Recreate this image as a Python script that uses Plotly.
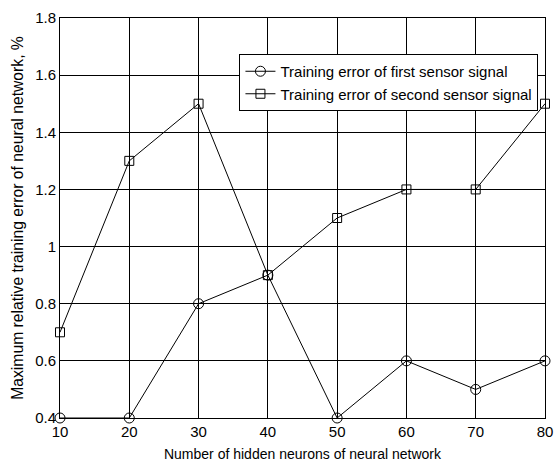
import plotly.graph_objects as go

neurons = [10, 20, 30, 40, 50, 60, 70, 80]
err_first = [0.4, 0.4, 0.8, 0.9, 0.4, 0.6, 0.5, 0.6]
err_second = [0.7, 1.3, 1.5, 0.9, 1.1, 1.2, 1.2, 1.5]
y_ticks = [0.4, 0.6, 0.8, 1.0, 1.2, 1.4, 1.6, 1.8]
y_tick_text = ["0.4", "0.6", "0.8", "1", "1.2", "1.4", "1.6", "1.8"]

fig = go.Figure()
fig.add_trace(go.Scatter(
    x=neurons, y=err_first, mode="lines+markers",
    name="Training error of first sensor signal",
    line=dict(color="black", width=1),
    marker=dict(symbol="circle-open", size=10, color="black", line=dict(width=1)),
    cliponaxis=False,
))
fig.add_trace(go.Scatter(
    x=neurons, y=err_second, mode="lines+markers",
    name="Training error of second sensor signal",
    line=dict(color="black", width=1),
    marker=dict(symbol="square-open", size=9, color="black", line=dict(width=1)),
    cliponaxis=False,
))

fam = "Liberation Sans, Arial"
fig.update_layout(
    width=554, height=463,
    margin=dict(l=60, r=9, t=18, b=45),
    paper_bgcolor="white", plot_bgcolor="white",
    font=dict(family=fam, size=15, color="black"),
    showlegend=True,
    legend=dict(
        x=0.37, y=0.91, xanchor="left", yanchor="top",
        bgcolor="white", bordercolor="black", borderwidth=1,
        font=dict(family=fam, size=15),
        itemwidth=30, tracegroupgap=0,
    ),
    xaxis=dict(
        range=[10, 80], tickmode="array", tickvals=neurons,
        showgrid=True, gridcolor="black", gridwidth=1,
        showline=True, linecolor="black", linewidth=1, mirror=True,
        ticks="inside", ticklen=3, tickcolor="black", zeroline=False,
        ticklabeloverflow="allow", automargin=False,
        title=dict(text="Number of hidden neurons of neural network", standoff=10,
                   font=dict(size=14)),
    ),
    yaxis=dict(
        range=[0.4, 1.8], tickmode="array", tickvals=y_ticks, ticktext=y_tick_text,
        showgrid=True, gridcolor="black", gridwidth=1,
        showline=True, linecolor="black", linewidth=1, mirror=True,
        ticks="inside", ticklen=3, tickcolor="black", zeroline=False,
        ticklabeloverflow="allow", automargin=False,
        title=dict(text="Maximum relative training error of neural network, %", standoff=7,
                   font=dict(size=15.7)),
    ),
)

fig.write_html("out.html")
